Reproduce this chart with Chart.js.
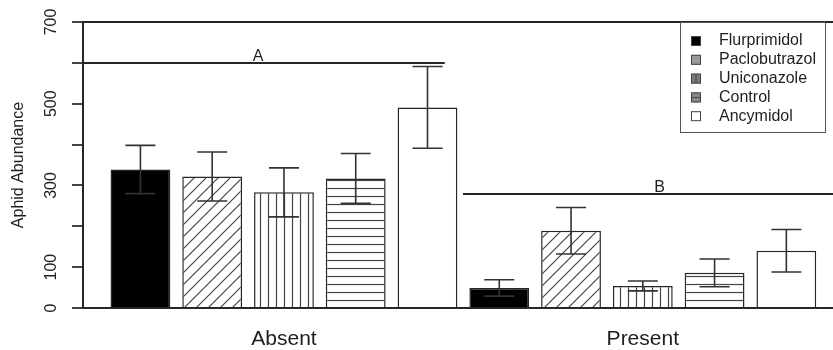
<!DOCTYPE html>
<html>
<head>
<meta charset="utf-8">
<script src="https://cdn.jsdelivr.net/npm/chart.js@4.4.1/dist/chart.umd.min.js"></script>
<style>
    html, body { margin: 0; padding: 0; background: #fff; }
    #wrap { width: 833px; height: 350px; }
</style>
</head>
<body>
<div id="wrap"><canvas id="aphidChart"></canvas></div>
<script>
"use strict";

const groups = ['Absent', 'Present'];
const treatments = ['Flurprimidol', 'Paclobutrazol', 'Uniconazole', 'Control', 'Ancymidol'];

// mean abundance [Absent, Present]
const flurprimidol = [339, 49];
const paclobutrazol = [322, 189];
const uniconazole = [283, 54];
const control = [317, 86];
const ancymidol = [491, 140];

// error bar half length [Absent, Present]
const flurprimidolErr = [59, 20];
const paclobutrazolErr = [60, 57];
const uniconazoleErr = [60, 12];
const controlErr = [61, 34];
const ancymidolErr = [100, 52];

const yTickLabels = ['0', '100', '', '300', '', '500', '', '700'];

// significance letters and their levels
const letters = ['A', 'B'];
const letterLevels = [600, 280];

const LINE = '#262626';
const TEXT = '#1e1e1e';

function makePattern(kind) {
    const c = document.createElement('canvas');
    const s = kind == 'diag' ? 12 : 8;
    c.width = s;
    c.height = s;
    const g = c.getContext('2d');
    g.fillStyle = '#fff';
    g.fillRect(0, 0, s, s);
    g.strokeStyle = '#444';
    g.lineWidth = 1.2;
    g.beginPath();
    if (kind == 'diag') {
        g.moveTo(0, s); g.lineTo(s, 0);
        g.moveTo(-1, 1); g.lineTo(1, -1);
        g.moveTo(s - 1, s + 1); g.lineTo(s + 1, s - 1);
    } else if (kind == 'vert') {
        g.moveTo(4.5, 0); g.lineTo(4.5, s);
    } else {
        g.moveTo(0, 4.5); g.lineTo(s, 4.5);
    }
    g.stroke();
    return g.createPattern(c, 'repeat');
}

const fills = ['#000', makePattern('diag'), makePattern('vert'), makePattern('horiz'), '#fff'];
const swatches = ['#000', '#9a9a9a', '#7a7a7a', '#8a8a8a', '#fff'];
const series = [flurprimidol, paclobutrazol, uniconazole, control, ancymidol];
const errors = [flurprimidolErr, paclobutrazolErr, uniconazoleErr, controlErr, ancymidolErr];

const datasets = treatments.map((name, i) => ({
    label: name,
    data: series[i].map((v, j) => ({x: j, y: v})),
    err: errors[i],
    backgroundColor: fills[i],
    borderColor: LINE,
    borderWidth: 1.5,
    categoryPercentage: 1.0,
    barPercentage: 0.833,
}));

/**
 * error bars
 */
const errorBars = {
    id: 'errorBars',
    afterDatasetsDraw(chart) {
        const ctx = chart.ctx;
        const y = chart.scales.y;
        ctx.save();
        ctx.strokeStyle = '#333';
        ctx.lineWidth = 1.6;
        chart.data.datasets.forEach((ds, i) => {
            chart.getDatasetMeta(i).data.forEach((bar, j) => {
                const v = ds.data[j].y;
                const e = ds.err[j];
                const top = y.getPixelForValue(v + e);
                const bot = y.getPixelForValue(v - e);
                ctx.beginPath();
                ctx.moveTo(bar.x, top); ctx.lineTo(bar.x, bot);
                ctx.moveTo(bar.x - 15, top); ctx.lineTo(bar.x + 15, top);
                ctx.moveTo(bar.x - 15, bot); ctx.lineTo(bar.x + 15, bot);
                ctx.stroke();
            });
        });
        ctx.restore();
    }
};

/**
 * letter lines + legend
 */
const extras = {
    id: 'extras',
    afterDraw(chart) {
        const ctx = chart.ctx;
        const {x, y} = chart.scales;
        const area = chart.chartArea;
        ctx.save();
        ctx.strokeStyle = LINE;
        ctx.lineWidth = 2;
        ctx.fillStyle = TEXT;
        ctx.font = '16px "Liberation Sans", Arial, sans-serif';
        ctx.textAlign = 'center';
        ctx.textBaseline = 'alphabetic';

        const spans = [[area.left, x.getPixelForValue(0.448)], [x.getPixelForValue(0.499), area.right]];
        const letterX = [x.getPixelForValue(-0.072), x.getPixelForValue(1.047)];
        letters.forEach((l, i) => {
            const py = Math.round(y.getPixelForValue(letterLevels[i]));
            ctx.beginPath();
            ctx.moveTo(spans[i][0], py);
            ctx.lineTo(spans[i][1], py);
            ctx.stroke();
            ctx.fillText(l, letterX[i], py - 2);
        });

        // legend
        const lx = area.right - 153, ly = area.top, lw = 145, lh = 110;
        ctx.lineWidth = 1;
        ctx.strokeStyle = '#555';
        ctx.strokeRect(lx + 0.5, ly + 0.5, lw, lh);
        ctx.textAlign = 'left';
        ctx.textBaseline = 'middle';
        treatments.forEach((name, i) => {
            const cy = ly + 19 + i * 18.8;
            ctx.fillStyle = swatches[i];
            ctx.fillRect(lx + 11, cy - 5, 10, 10);
            ctx.strokeStyle = '#444';
            ctx.strokeRect(lx + 11.5, cy - 4.5, 9, 9);
            ctx.beginPath();
            if (i == 2) { ctx.moveTo(lx + 16, cy - 4); ctx.lineTo(lx + 16, cy + 4); }
            if (i == 3) { ctx.moveTo(lx + 12, cy); ctx.lineTo(lx + 20, cy); }
            ctx.stroke();
            ctx.fillStyle = TEXT;
            ctx.fillText(name, lx + 39, cy);
        });
        ctx.restore();
    }
};

const aphid = document.getElementById('aphidChart').getContext('2d');
const aphidChart = new Chart(aphid, {
    type: 'bar',
    data: { datasets: datasets },
    options: {
        maintainAspectRatio: false,
        responsive: true,
        animation: false,
        layout: { padding: { top: 22, left: 0, right: 0, bottom: 0 } },
        plugins: {
            legend: { display: false },
            tooltip: { enabled: false },
            title: { display: false },
        },
        scales: {
            x: {
                type: 'linear',
                offset: false,
                bounds: 'data',
                grace: 0,
                min: -0.56,
                max: 1.53,
                afterBuildTicks: s => { s.ticks = [{value: 0}, {value: 1}]; },
                afterFit: s => { s.height = 42; },
                grid: { display: false },
                border: { display: true, color: LINE, width: 2 },
                ticks: {
                    padding: 11,
                    color: TEXT,
                    font: { family: '"Liberation Sans", Arial, sans-serif', size: 21 },
                    callback: v => groups[v],
                },
            },
            y: {
                min: 0,
                max: 700,
                afterFit: s => { s.width = 83; },
                border: { display: true, color: LINE, width: 2 },
                grid: {
                    color: c => c.tick && c.tick.value === 700 ? LINE : 'rgba(0,0,0,0)',
                    lineWidth: 2,
                    tickColor: '#444',
                    tickLength: 11,
                    drawTicks: true,
                },
                ticks: {
                    stepSize: 100,
                    autoSkip: false,
                    minRotation: 90,
                    maxRotation: 90,
                    crossAlign: 'center',
                    padding: 7,
                    color: TEXT,
                    font: { family: '"Liberation Sans", Arial, sans-serif', size: 16 },
                    callback: (v, i) => yTickLabels[i],
                },
                title: {
                    display: true,
                    text: 'Aphid Abundance',
                    color: TEXT,
                    padding: { top: 9, bottom: 0 },
                    font: { family: '"Liberation Sans", Arial, sans-serif', size: 16 },
                },
            },
        },
    },
    plugins: [errorBars, extras],
});
</script>
</body>
</html>
